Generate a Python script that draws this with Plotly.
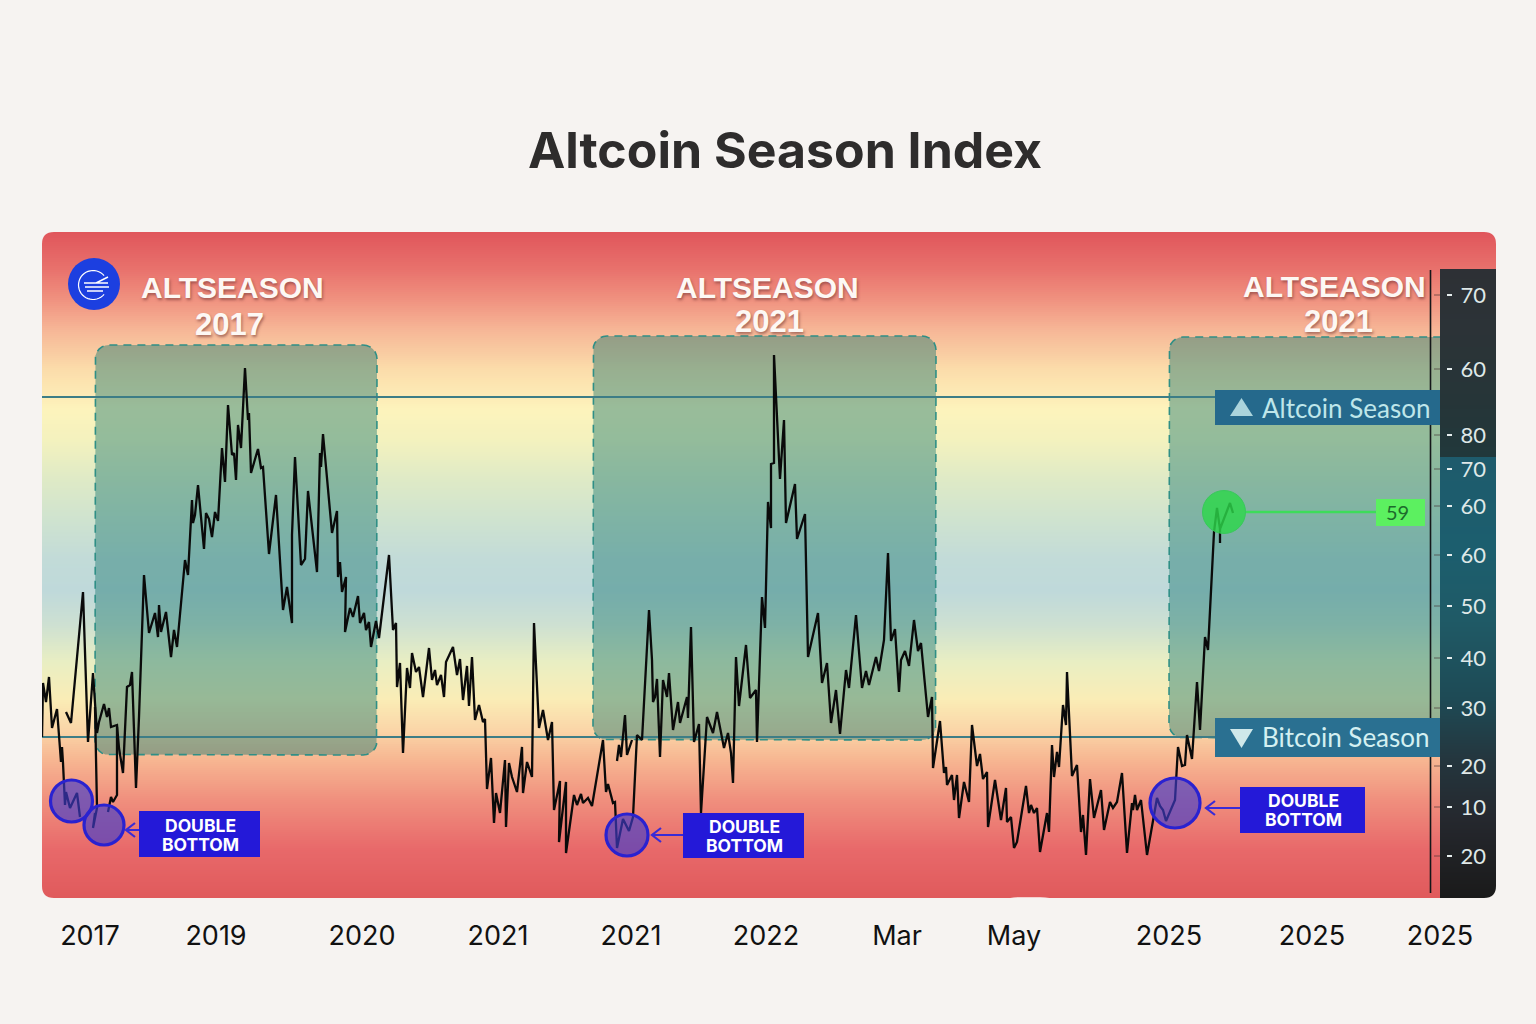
import math
import plotly.graph_objects as go

W, H = 1536, 1024
PAGE = "#f6f3f1"
LEFT, RIGHT, TOP, BOTTOM = 42, 1496, 232, 898

def Y(py):
    return BOTTOM - py

# ---------- data ----------
x_main = [66,71,83,88,93,97,99,104,107,109,111,117,119,123,127,130,132,136,139,144,
149,155,158,159,161,166,171,174,177,180,185,188,192,193,195,198,204,206,209,212,
215,218,222,225,228,232,234,236,238,241,245,248,249,251,258,261,263,269,276,283,
287,292,292,295,301,305,308,317,320,321,323,332,337,338,340,342,346,345,350,353,
358,360,364,366,369,371,376,379,389,393,396,397,400,403,407,410,412,416,419,423,
429,432,435,437,441,444,446,453,457,460,463,467,469,472,475,479,483,485,487,491,
494,496,500,505,506,509,512,517,522,523,527,532,534,539,543,548,552,554,560,559,
566,566,574,577,581,583,588,592,603,606,608,613,615,617,623,629,633,637,642,649,
652,653,655,657,660,663,667,669,673,678,680,687,688,691,694,699,701,707,713,717,
721,724,728,731,733,736,739,746,750,756,757,762,765,768,771,771,774,774,780,784,
786,795,797,805,808,818,822,827,831,836,840,846,849,856,862,866,869,876,879,884,
888,891,895,899,901,905,909,914,918,921,928,932,933,940,944,946,947,952,954,957,
959,964,969,972,977,980,983,987,988,995,1001,1006,1007,1011,1014,1017,1026,1029,1031,1034,
1037,1040,1047,1049,1052,1054,1057,1059,1063,1066,1067,1072,1077,1081,1083,1086,1090,1094,1101,1104,
1110,1113,1117,1122,1127,1132,1133,1135,1137,1141,1147,1157,1160,1163,1166,1175,1178,1182,1185,1187,
1192,1197,1200,1205,1208,1214,1217,1220,1230,1233]
y_main = [186,175,306,156,225,165,176,194,181,190,171,173,150,125,211,213,226,110,181,323,
265,285,261,293,266,286,241,268,251,285,338,323,398,375,383,413,349,385,379,361,
386,377,450,416,493,443,445,418,473,450,530,478,485,425,449,430,431,344,403,288,
311,275,363,441,333,339,407,326,445,431,464,365,387,321,336,306,321,266,290,281,
302,275,285,268,276,251,277,260,343,268,275,211,235,145,230,210,245,226,231,201,
250,218,228,213,223,201,236,251,223,239,198,232,192,241,178,193,176,179,109,140,
75,105,85,138,71,135,121,106,151,105,136,121,275,170,188,158,176,88,117,56,
116,45,103,93,104,95,100,92,158,106,114,95,96,50,79,67,81,163,158,288,
238,196,201,219,141,218,201,225,168,196,175,201,180,271,156,174,85,181,165,186,
166,150,165,145,115,241,192,253,200,208,156,301,270,396,370,434,435,543,419,478,
375,414,359,384,241,285,215,235,175,208,164,228,210,283,210,227,213,241,227,258,
345,257,269,206,238,247,232,278,247,255,181,201,130,177,125,131,113,123,98,123,
80,116,96,173,132,144,119,126,71,118,78,110,76,81,50,56,112,85,93,85,
90,46,85,66,153,121,146,131,193,173,226,122,133,66,83,43,119,80,108,68,
96,90,96,125,45,95,88,103,88,98,43,100,92,88,77,98,151,132,133,163,
139,216,168,261,248,366,390,369,395,385]

x_early = [42,43,46,49,52,57,61,62,63,65,66,70,77,80]
y_early = [161,215,196,221,170,189,136,151,135,93,106,90,105,81]
x_dip_a = [95,97,93,95]
y_dip_a = [191,90,70,85]
x_dip_b = [108,111,113,117,117]
y_dip_b = [86,101,96,103,171]
x_branch = [617,619,621,625,627,632]
y_branch = [137,153,141,183,143,158]
x_stub = [1220,1220]
y_stub = [369,355]

season_names = ["ALTSEASON", "ALTSEASON", "ALTSEASON"]
season_years = ["2017", "2021", "2021"]
season_box_left = [95, 593, 1169]
season_box_right = [377, 936, 1440]
season_box_top = [553, 562, 561]
season_box_bottom = [143, 158, 160]

bottom_x = [71.5, 104, 627, 1175]
bottom_y = [97, 73, 63, 95]
bottom_size = [42, 40, 42, 50]

current_x = [1224]
current_y = [386]
current_value = "59"

threshold_high = 501
threshold_low = 161

x_tick_pos = [90, 216, 362, 498, 631, 766, 897, 1014, 1169, 1312, 1440]
x_tick_text = ["2017", "2019", "2020", "2021", "2021", "2022", "Mar", "May", "2025", "2025", "2025"]
y_tick_pos = [603, 529, 463, 429, 392, 343, 292, 240, 190, 132, 91, 42]
y_tick_text = ["70", "60", "80", "70", "60", "60", "50", "40", "30", "20", "10", "20"]

# ---------- background gradients ----------
band_py = [232,270,300,330,370,397,410,440,480,520,560,592,625,662,700,730,760,800,850,898]
band_col = ["#e0555b","#e8716c","#f0917f","#f6b596","#fbdcaa","#fdebb6","#fdf3bc","#f4f2be","#dfeac6","#cfe3cf",
            "#c2dbd8","#bfd9da","#cde0d2","#e8eec3","#faedb6","#fad6a8","#f7b792","#f0907e","#e8696a","#e05a5c"]
rail_py = [269,330,400,457,458,550,620,700,760,820,898]
rail_col = ["#2d3035","#2c3337","#263538","#21383b","#1e5b6c","#1c5e6e","#1f5a66","#1e4a55","#24363e","#25282e","#1a1a1a"]

def scale(pys, cols, top):
    span = BOTTOM - top
    return [[(BOTTOM - p) / span, c] for p, c in sorted(zip(pys, cols), key=lambda t: -t[0])]

fig = go.Figure()
fig.add_trace(go.Heatmap(x=[LEFT, RIGHT], y=list(range(0, 667, 2)), z=[[v] for v in range(0, 666, 2)],
                         zmin=0, zmax=666, colorscale=scale(band_py, band_col, TOP),
                         showscale=False, hoverinfo="skip"))
fig.add_trace(go.Heatmap(x=[1440, RIGHT], y=list(range(0, 630, 1)), z=[[v] for v in range(0, 629, 1)],
                         zmin=0, zmax=629, colorscale=scale(rail_py, rail_col, 269),
                         showscale=False, hoverinfo="skip"))

def rounded(l, r, t, b, rad=14, rad_right=14):
    xs, ys = [], []
    corners = [(r - rad_right, t - rad_right, 90, 0, rad_right), (r - rad_right, b + rad_right, 0, -90, rad_right),
               (l + rad, b + rad, -90, -180, rad), (l + rad, t - rad, 180, 90, rad)]
    for cx, cy, a0, a1, q in corners:
        for i in range(7):
            a = math.radians(a0 + (a1 - a0) * i / 6)
            xs.append(cx + q * math.cos(a))
            ys.append(cy + q * math.sin(a))
    return xs, ys

for i in range(3):
    l, r, t, b = season_box_left[i], season_box_right[i], season_box_top[i], season_box_bottom[i]
    xs, ys = rounded(l, r, t, b, rad_right=14 if i < 2 else 0)
    fig.add_trace(go.Scatter(x=xs + xs[:1], y=ys + ys[:1], mode="lines", fill="toself",
                             fillcolor="rgba(20,115,110,0.43)", line=dict(width=0),
                             hoverinfo="skip", showlegend=False))
    if i < 2:
        lx, ly = xs + xs[:1], ys + ys[:1]
    else:
        keep = [k for k in range(len(xs)) if xs[k] < r - 1]
        lx, ly = [r] + [xs[k] for k in keep] + [r], [b] + [ys[k] for k in keep] + [t]
    fig.add_trace(go.Scatter(x=lx, y=ly, mode="lines",
                             line=dict(color="#2f8f86", width=1.6, dash="8px,6px"),
                             hoverinfo="skip", showlegend=False))

for level in (threshold_high, threshold_low):
    fig.add_trace(go.Scatter(x=[LEFT, 1216], y=[level, level], mode="lines",
                             line=dict(color="#3d7d86", width=2.2), hoverinfo="skip", showlegend=False))

for xs, ys in [(x_main, y_main), (x_early, y_early), (x_dip_a, y_dip_a), (x_dip_b, y_dip_b),
               (x_branch, y_branch), (x_stub, y_stub)]:
    fig.add_trace(go.Scatter(x=xs, y=ys, mode="lines", line=dict(color="#0a0a0a", width=2.3),
                             hoverinfo="skip", showlegend=False))

fig.add_trace(go.Scatter(x=bottom_x, y=bottom_y, mode="markers",
                         marker=dict(size=bottom_size, opacity=1, color="rgba(65,60,203,0.65)", line=dict(width=0)),
                         hoverinfo="skip", showlegend=False))
fig.add_trace(go.Scatter(x=bottom_x, y=bottom_y, mode="markers",
                         marker=dict(size=bottom_size, opacity=1, symbol="circle-open", color="#2a22d0",
                                     line=dict(color="#2a22d0", width=3.2)),
                         hoverinfo="skip", showlegend=False))
fig.add_trace(go.Scatter(x=[1245, 1376], y=[current_y[0]] * 2, mode="lines",
                         line=dict(color="#3ddc5a", width=2.5), hoverinfo="skip", showlegend=False))
fig.add_trace(go.Scatter(x=current_x, y=current_y, mode="markers",
                         marker=dict(size=43, opacity=1, color="rgba(45,215,75,0.82)",
                                     line=dict(color="#38c95a", width=1)),
                         hoverinfo="skip", showlegend=False))

# ---------- shapes ----------
shapes = []
def rect(l, r, t, b, color):
    shapes.append(dict(type="rect", xref="x", yref="y", x0=l, x1=r, y0=Y(t), y1=Y(b),
                       fillcolor=color, line=dict(width=0), layer="above"))
def path(d, fill=None, line=None, width=1):
    s = dict(type="path", xref="x", yref="y", path=d, layer="above")
    s["fillcolor"] = fill if fill else "rgba(0,0,0,0)"
    s["line"] = dict(color=line, width=width) if line else dict(width=0)
    shapes.append(s)

# axis rule and the small dark ticks beside the rail
shapes.append(dict(type="line", xref="x", yref="y", x0=1430.5, x1=1430.5, y0=Y(270), y1=Y(893),
                   line=dict(color="#15171a", width=1.6), layer="above"))
for v in y_tick_pos:
    shapes.append(dict(type="line", xref="x", yref="y", x0=1434, x1=1440, y0=v, y1=v,
                       line=dict(color="rgba(70,50,50,0.55)", width=1.2), layer="above"))

# season tags
rect(1215, 1440, 390, 425, "#25698c")
rect(1215, 1440, 718, 757, "#2a7091")
path(f"M 1230 {Y(416)} L 1253 {Y(416)} L 1241.5 {Y(398)} Z", fill="#abd4dc")
path(f"M 1230 {Y(729)} L 1253 {Y(729)} L 1241.5 {Y(748)} Z", fill="#cfe8ea")

# badge
rect(1376, 1425, 499, 526, "#5cf060")

# double bottom boxes and arrows
rect(139, 260, 811, 857, "#2419d8")
rect(683, 804, 813, 858, "#2419d8")
rect(1240, 1365, 787, 833, "#2419d8")
for x0, x1, py in [(139, 126, 830), (683, 652, 835), (1240, 1206, 808)]:
    path(f"M {x0} {Y(py)} L {x1} {Y(py)} M {x1+9} {Y(py-7)} L {x1} {Y(py)} L {x1+9} {Y(py+7)}",
         line="#3a2bd6", width=2.2)

# logo
shapes.append(dict(type="circle", xref="x", yref="y", x0=68, x1=120, y0=Y(310), y1=Y(258),
                   fillcolor="#1c3fe0", line=dict(width=0), layer="above"))
ring = []
for i in range(33):
    a = math.radians(40 + 280 * i / 32)
    ring.append((93 + 14.5 * math.cos(a), Y(285) + 14.5 * math.sin(a)))
path("M " + " L ".join(f"{a:.1f} {b:.1f}" for a, b in ring), line="white", width=1.2)
path(f"M 84 {Y(283)} L 108 {Y(283)} M 85 {Y(287)} L 109 {Y(287)} M 87 {Y(291)} L 103 {Y(291)} "
     f"M 96 {Y(283)} L 108 {Y(277)}", line="white", width=1.4)

# notch and rounded corners of the panel
path(f"M 1006 {Y(899)} Q 1012 {Y(897.2)} 1020 {Y(897.2)} L 1040 {Y(897.2)} Q 1048 {Y(897.2)} 1053 {Y(899)} Z", fill="#fbf8f5")
R = 12
for cx, cy, sx, sy in [(LEFT, Y(TOP), 1, -1), (RIGHT, Y(TOP), -1, -1), (LEFT, Y(BOTTOM), 1, 1), (RIGHT, Y(BOTTOM), -1, 1)]:
    path(f"M {cx - sx} {cy - sy} L {cx + sx * R} {cy - sy} L {cx + sx * R} {cy} Q {cx} {cy} {cx} {cy + sy * R} L {cx - sx} {cy + sy * R} Z",
         fill=PAGE)

# ---------- text ----------
ann = []
def text(x, py, s, size, color, family="Inter", weight=400, shadow=None):
    font = dict(size=size, color=color, family=family, weight=weight)
    if shadow:
        font["shadow"] = shadow
    ann.append(dict(x=x, y=Y(py), xref="x", yref="y", text=s, showarrow=False,
                    xanchor="center", yanchor="middle", font=font))

SH = "1px 2px 3px rgba(110,50,50,0.6)"
for cx, py1, cx2, py2, name, year in [(232.5, 287, 229, 324, season_names[0], season_years[0]),
                                      (767, 287, 769, 321, season_names[1], season_years[1]),
                                      (1334, 286, 1338, 321, season_names[2], season_years[2])]:
    text(cx, py1, f"<b>{name}</b>", 30, "#fdf8f4", "Liberation Sans", 700, SH)
    text(cx2, py2, f"<b>{year}</b>", 31, "#fdf8f4", "Liberation Sans", 700, SH)

text(1346, 408, "Altcoin Season", 26, "#bfe6ea", "Lato")
text(1346, 737, "Bitcoin Season", 26, "#d4f0f2", "Lato")
text(1397, 512, current_value, 20, "#1d6b2c", "Lato")
for cx, py1, py2 in [(200, 825, 844), (744, 826, 845), (1303, 800, 819)]:
    text(cx, py1, "DOUBLE", 17.5, "white", "Inter", 700)
    text(cx, py2, "BOTTOM", 17.5, "white", "Inter", 700)

fig.update_layout(
    width=W, height=H, margin=dict(l=0, r=0, t=0, b=0),
    paper_bgcolor=PAGE, plot_bgcolor=PAGE, showlegend=False,
    title=dict(text="Altcoin Season Index", x=785 / W, xanchor="center", y=1 - 150 / H, yanchor="middle",
               font=dict(family="Inter", size=50, color="#2e2c2c", weight=700)),
    xaxis=dict(domain=[LEFT / W, RIGHT / W], range=[LEFT, RIGHT], tickmode="array",
               tickvals=x_tick_pos, ticktext=x_tick_text, showgrid=False, zeroline=False,
               showline=False, ticks="", ticklabelstandoff=19, fixedrange=True,
               tickfont=dict(family="Inter", size=27, color="#111111"), anchor="y"),
    yaxis=dict(domain=[1 - BOTTOM / H, 1 - TOP / H], range=[0, BOTTOM - TOP], tickmode="array",
               tickvals=y_tick_pos, ticktext=y_tick_text, showgrid=False, zeroline=False,
               showline=False, side="right", anchor="free", position=1446 / W,
               ticks="outside", ticklen=5, tickwidth=1.5, tickcolor="#e6eeee", fixedrange=True,
               ticklabelstandoff=4, tickfont=dict(family="Lato", size=22, color="#dfe8e8")),
    shapes=shapes, annotations=ann,
)

fig.write_html("out.html", config=dict(displayModeBar=False),
               post_script="document.body.style.margin='0';document.body.style.background='" + PAGE + "';")
